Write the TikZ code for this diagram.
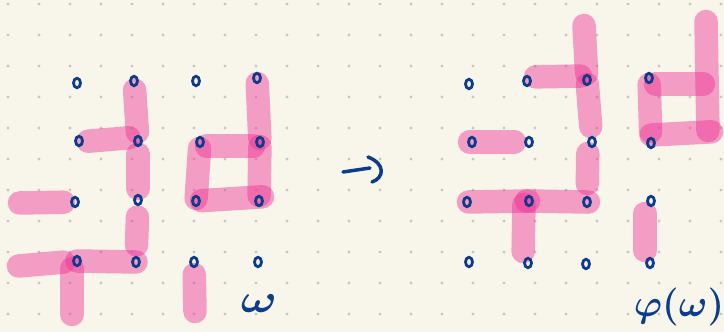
\RequirePackage{fix-cm}
\documentclass[tikz,border=0pt]{standalone}
\usetikzlibrary{shapes.geometric}
\definecolor{paper}{RGB}{248,245,234}
\definecolor{griddot}{RGB}{202,200,190}
\definecolor{ink}{RGB}{12,60,140}
\definecolor{hl}{RGB}{238,50,150}
\pgfdeclarelayer{bglayer}
\pgfdeclarelayer{barlayer}
\pgfsetlayers{bglayer,barlayer,main}
\tikzset{
  vtx/.style={draw=ink, line width=2.8pt, ellipse, inner sep=0pt, minimum width=7pt, minimum height=9.5pt},
  bar/.style={draw=hl, line width=23.5pt, line cap=round, opacity=0.45, shorten <=9pt, shorten >=9pt},
  lbl/.style={text=ink, inner sep=0pt},
  pen/.style={draw=ink, line width=3.5pt, line cap=round, line join=round},
}
\begin{document}
\begin{tikzpicture}[x=1pt, y=-1pt]
\begin{pgfonlayer}{bglayer}
  \fill[paper] (0,0) rectangle (724,332);
  \foreach \i in {0,...,23} \foreach \j in {0,...,10}
    \fill[griddot] (8+31*\i, 4+31*\j) circle (1.6pt);
\end{pgfonlayer}
\useasboundingbox (0,0) rectangle (724,332);

% left configuration (omega)
\node[vtx] (L11) at (77,83) {};
\node[vtx] (L21) at (134,81) {};
\node[vtx] (L31) at (196,81) {};
\node[vtx] (L41) at (257,78) {};
\node[vtx] (L12) at (79,141) {};
\node[vtx] (L22) at (138,141) {};
\node[vtx] (L32) at (200,142) {};
\node[vtx] (L42) at (260,142) {};
\node[vtx] (L13) at (75,202) {};
\node[vtx] (L23) at (138,200) {};
\node[vtx] (L33) at (196,201) {};
\node[vtx] (L43) at (259,201) {};
\node[vtx] (L14) at (77,261) {};
\node[vtx] (L24) at (136,262) {};
\node[vtx] (L34) at (194,262) {};
\node[vtx] (L44) at (258,262) {};
\coordinate (FL3) at (19.5,203);
\coordinate (FL4) at (18.5,266);
\coordinate (FB1) at (72,314.5);
\coordinate (FB3) at (195,311.5);

% right configuration (phi(omega))
\node[vtx] (R11) at (469,84) {};
\node[vtx] (R21) at (527,81) {};
\node[vtx] (R31) at (587,80) {};
\node[vtx] (R41) at (649,78) {};
\node[vtx] (R12) at (472,142) {};
\node[vtx] (R22) at (529,142) {};
\node[vtx] (R32) at (592,142) {};
\node[vtx] (R42) at (651,143) {};
\node[vtx] (R13) at (467,202) {};
\node[vtx] (R23) at (529,201) {};
\node[vtx] (R33) at (587,202) {};
\node[vtx] (R43) at (651,201) {};
\node[vtx] (R14) at (469,262) {};
\node[vtx] (R24) at (528,263) {};
\node[vtx] (R34) at (586,264) {};
\node[vtx] (R44) at (650,263) {};
\coordinate (RT3) at (584,25.5);
\coordinate (R50) at (706,21.5);
\coordinate (R51) at (707,84);
\coordinate (R52) at (708,132);

\begin{pgfonlayer}{barlayer}
  % left bars
  \draw[bar] (L21.center) -- (L22.center);
  \draw[bar] ([yshift=-1pt]L12.center) -- ([yshift=4pt]L22.center);
  \draw[bar, shorten <=13pt, shorten >=11.5pt] (L22.center) -- (L23.center);
  \draw[bar, shorten <=0pt, shorten >=11.5pt] (FL3) -- (L13.center);
  \draw[bar, shorten <=17pt, shorten >=17pt] (L23.center) -- (L24.center);
  \draw[bar, shorten <=0pt, shorten >=13.5pt] (FL4) -- (L14.center);
  \draw[bar, shorten <=0pt, shorten >=0pt] (L14.center) -- (L24.center);
  \draw[bar, shorten <=7.5pt, shorten >=0pt] ([xshift=-5pt]L14.center) -- (FB1);
  \draw[bar, shorten <=12.5pt, shorten >=0pt] (L34.center) -- (FB3);
  \draw[bar, shorten <=6.5pt, shorten >=2.5pt] (L32.center) -- (L33.center);
  \draw[bar, shorten <=6.5pt, shorten >=6.5pt] ([yshift=-4pt]L32.center) -- ([yshift=-4pt]L42.center);
  \draw[bar, shorten <=5.5pt, shorten >=-3.5pt] (L33.center) -- ([yshift=4pt]L43.center);
  \draw[bar, shorten <=5.5pt, shorten >=3.5pt] (L41.center) -- (L42.center);
  \draw[bar, shorten <=4.5pt, shorten >=5.5pt] (L42.center) -- (L43.center);
  % right bars
  \draw[bar, shorten <=0pt, shorten >=6.5pt] (RT3) -- (R31.center);
  \draw[bar, shorten <=8.5pt, shorten >=6.5pt] ([yshift=4pt]R21.center) -- ([yshift=4pt]R31.center);
  \draw[bar, shorten <=4.5pt, shorten >=15.5pt] (R31.center) -- (R32.center);
  \draw[bar, shorten <=11.5pt, shorten >=18.5pt] ([xshift=-4pt]R32.center) -- (R33.center);
  \draw[bar, shorten <=-2.5pt, shorten >=14.5pt] (R12.center) -- (R22.center);
  \draw[bar, shorten <=1.5pt, shorten >=0.5pt] (R13.center) -- (R23.center);
  \draw[bar, shorten <=-2.5pt, shorten >=-1.5pt] (R23.center) -- (R33.center);
  \draw[bar, shorten <=3.5pt, shorten >=11.5pt] ([xshift=-5pt]R23.center) -- ([xshift=-5pt]R24.center);
  \draw[bar, shorten <=12.5pt, shorten >=12.5pt] ([xshift=-6pt]R43.center) -- ([xshift=-5pt]R44.center);
  \draw[bar, shorten <=6.5pt, shorten >=11.5pt] (R41.center) -- (R42.center);
  \draw[bar, shorten <=6.5pt, shorten >=3.5pt] ([yshift=-6pt]R41.center) -- (R51);
  \draw[bar, shorten <=0pt, shorten >=-3.5pt] ([yshift=8pt]R42.center) -- (R52);
  \draw[bar, shorten <=0pt, shorten >=1.5pt] (R50) -- (R52);
\end{pgfonlayer}

% arrow
\coordinate (A1) at (343,172);
\coordinate (A2) at (370,168);
\coordinate (A3) at (368,157);
\coordinate (A4) at (372,182);
\draw[pen] (A1) -- (A2);
\draw[pen] (A3) .. controls (386,164) and (384,178) .. (A4);

% labels
\node[lbl, font=\fontsize{40}{44}\selectfont\boldmath, xscale=1.2] (wlab) at (259,304) {$\omega$};
\node[lbl, font=\fontsize{38}{44}\selectfont\boldmath] (plab) at (679,307) {$\varphi(\omega)$};
\end{tikzpicture}
\end{document}
